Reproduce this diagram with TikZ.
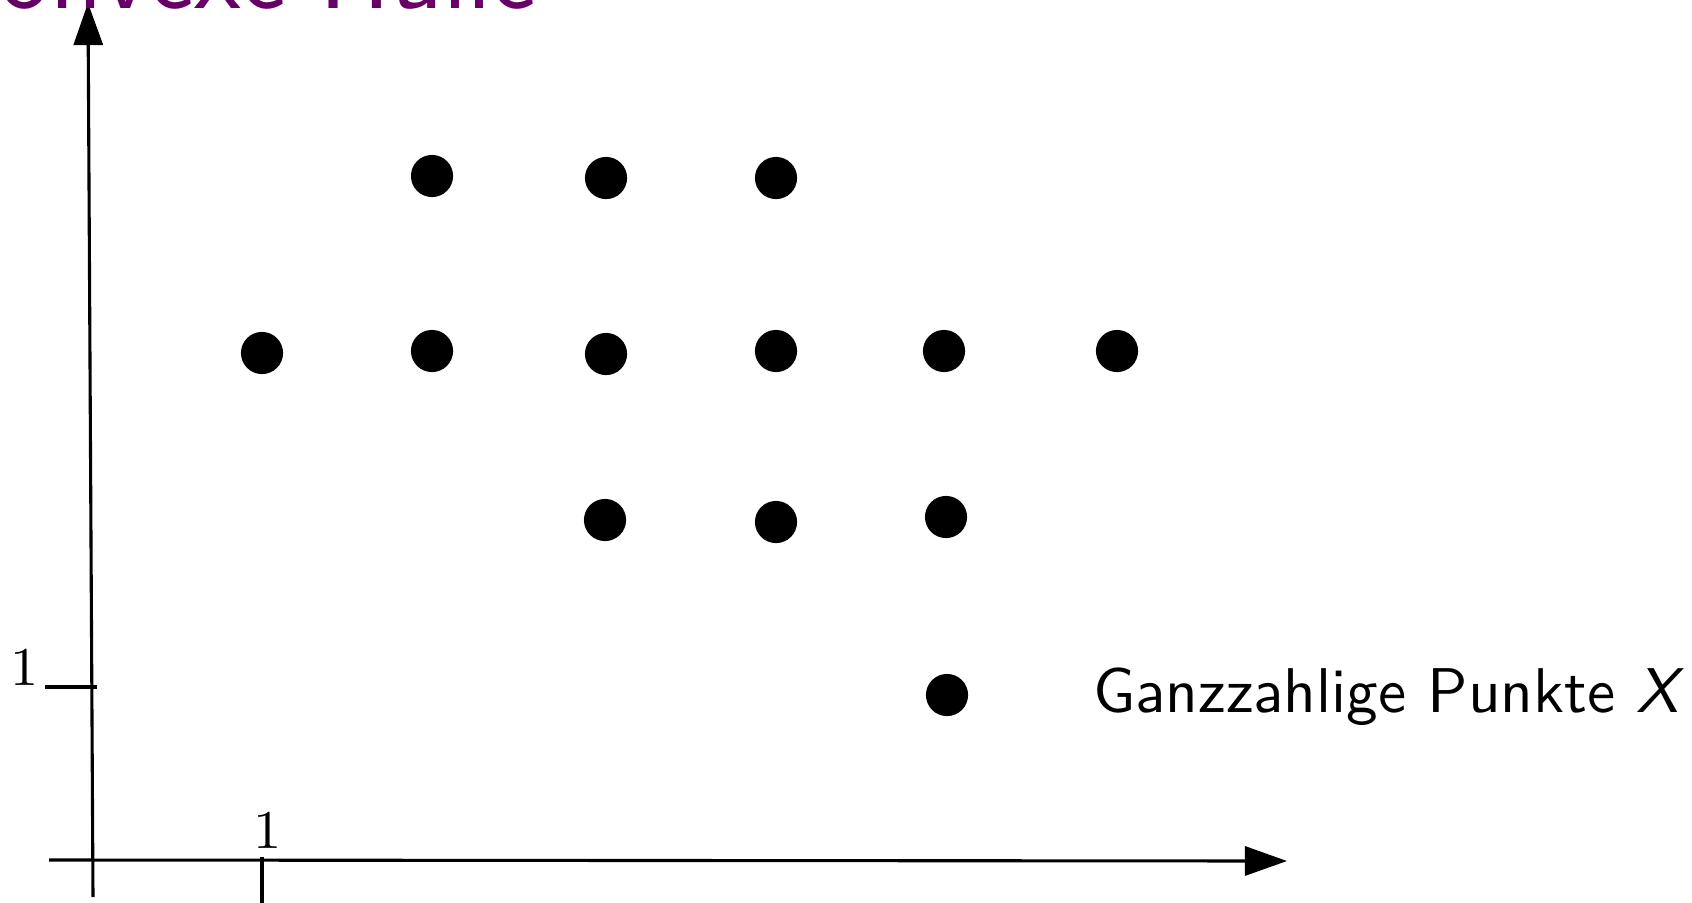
\documentclass[tikz,border=0pt]{standalone}
\usetikzlibrary{arrows.meta}
\definecolor{titlepurple}{RGB}{102,0,102}
\begin{document}
\begin{tikzpicture}[x=0.1613pt,y=-0.1613pt,
  axis/.style={line width=0.5pt, -{Triangle[length=6.8pt,width=4.7pt]}},
  tickline/.style={line width=0.5pt},
  gpt/.style={circle, fill=black, inner sep=0pt, minimum size=6.8pt},
  lbl/.style={inner sep=0pt, font=\fontsize{8.8}{10}\selectfont}]
\useasboundingbox (0,0) rectangle (1692,902);
% axes
\coordinate (xs) at (49,860);
\coordinate (xe) at (1287,861);
\coordinate (ys) at (93,897);
\coordinate (ye) at (88,3);
\draw[axis] (xs) -- (xe);
\draw[axis] (ys) -- (ye);
% ticks
\coordinate (yt1) at (45,687);
\coordinate (yt2) at (97,687);
\coordinate (xt1) at (262,857);
\coordinate (xt2) at (262,905);
\draw[tickline] (yt1) -- (yt2);
\draw[tickline] (xt1) -- (xt2);
\node[lbl] (l1y) at (25,667) {1};
\node[lbl] (l1x) at (268,830) {1};
% integer points
\node[gpt] (p24) at (432,176) {};
\node[gpt] (p34) at (606,178) {};
\node[gpt] (p44) at (776,178) {};
\node[gpt] (p13) at (262,353) {};
\node[gpt] (p23) at (432,351) {};
\node[gpt] (p33) at (606,354) {};
\node[gpt] (p43) at (776,351) {};
\node[gpt] (p53) at (944,351) {};
\node[gpt] (p63) at (1117,351) {};
\node[gpt] (p32) at (605,520) {};
\node[gpt] (p42) at (776,522) {};
\node[gpt] (p52) at (946,517) {};
\node[gpt] (p51) at (947,695) {};
% texts
\node[anchor=base east, inner sep=0pt, text=titlepurple, font=\sffamily\fontsize{17.4}{20}\selectfont] (title) at (538,9) {Konvexe Hülle};
\node[anchor=base west, inner sep=0pt, font=\sffamily\fontsize{10.2}{12}\selectfont] (legend) at (1092,712) {Ganzzahlige Punkte \textit{X}};
\end{tikzpicture}
\end{document}
